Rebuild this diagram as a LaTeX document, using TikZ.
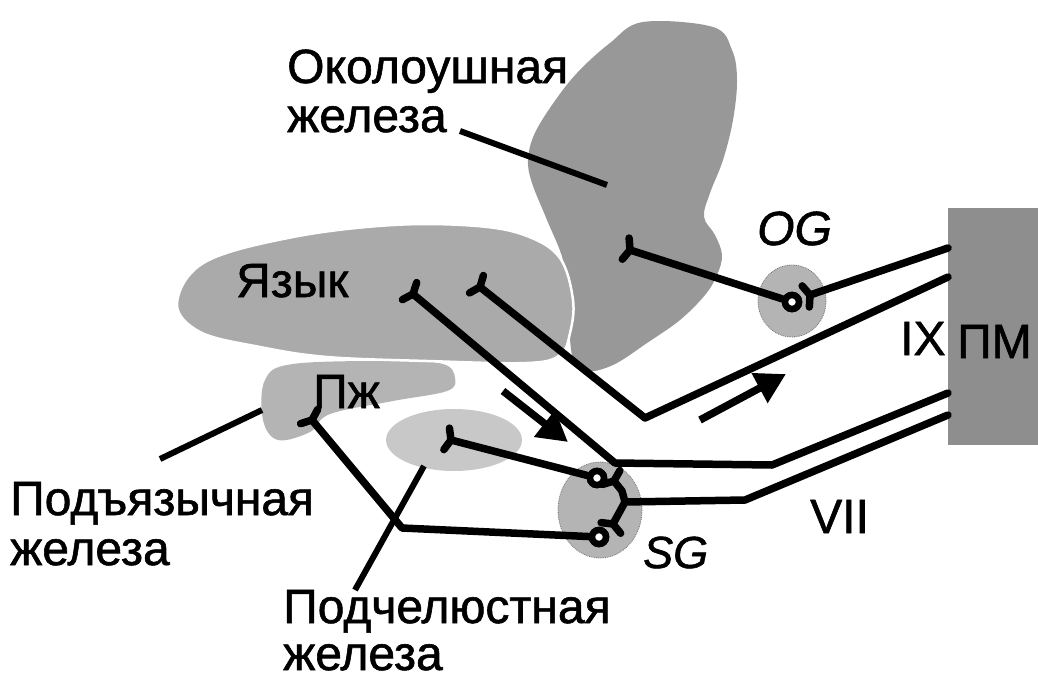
\documentclass[tikz,border=0pt]{standalone}
\usepackage{fontspec}
\setmainfont[UprightFeatures={FakeBold=1.2}, ItalicFeatures={FakeBold=1.2}]{Liberation Sans}
\usetikzlibrary{arrows.meta,calc}

\definecolor{parotidgray}{HTML}{989898}
\definecolor{tonguegray}{HTML}{AAAAAA}
\definecolor{sublgray}{HTML}{B4B4B4}
\definecolor{submgray}{HTML}{C8C8C8}
\definecolor{ganglgray}{HTML}{B4B4B4}
\definecolor{medgray}{HTML}{8E8E8E}

% Y-shaped synaptic ending at #2 for an axon arriving from #1
\newcommand\synend[2]{\draw[nerve] ($(#2)!12pt!112:(#1)$) -- (#2) -- ($(#2)!12pt!-112:(#1)$);}

\begin{document}
\begin{tikzpicture}[x=1pt,y=-1pt,
  txt/.style={font=\fontsize{48}{56}\selectfont, inner sep=0pt, anchor=base west},
  nerve/.style={line width=7.5pt, line join=round, line cap=round},
  leader/.style={line width=6pt},
  ganglion/.style={fill=ganglgray, draw=black!55, line width=0.8pt, densely dotted},
  soma/.style={circle, draw, line width=6.5pt, fill=white, minimum size=14pt, inner sep=0pt},
  flow/.style={line width=7.5pt, -{Triangle[length=30pt,width=32pt]}},
]
\useasboundingbox (0,0) rectangle (1038,680);
\fill[white] (0,0) rectangle (1038,680);

% glands
\fill[parotidgray] plot[smooth cycle, tension=0.6] coordinates {
  (610,43) (643,22) (713,27) (732,50) (737,80) (733,120) (723,160)
  (710,193) (704,217) (715,235) (722,255) (717,275) (705,295) (680,320)
  (647,343) (613,365) (585,371) (572,355) (568,300) (563,260) (547,220)
  (532,183) (528,160) (534,135) (552,105) (577,73)};
\fill[sublgray] plot[smooth cycle, tension=0.6] coordinates {
  (265,380) (293,364) (393,361) (443,364) (455,378) (447,391) (393,401)
  (330,414) (310,432) (278,440) (263,420)};
\filldraw[tonguegray, draw=white, line width=2.5pt] plot[smooth cycle, tension=0.6] coordinates {
  (177,303) (205,262) (293,237) (393,225) (477,226) (527,236) (560,258)
  (573,300) (570,333) (560,355) (527,363) (427,361) (327,357) (260,347) (200,332)};
\fill[submgray] (454,440) ellipse [x radius=68, y radius=31];

% medulla block
\fill[medgray] (948,208) rectangle (1038,445);

% ganglia
\draw[ganglion] (792,301) ellipse [x radius=34, y radius=36];
\draw[ganglion] (600,510) ellipse [x radius=42, y radius=48];

% points along the nerves
\coordinate (ixA) at (948,248);
\coordinate (ixB) at (948,277);
\coordinate (ixBv) at (645,418);
\coordinate (viiA) at (948,393);
\coordinate (viiAv) at (772,465);
\coordinate (viiAh) at (615,463);
\coordinate (viiB) at (948,415);
\coordinate (viiBv) at (745,500);
\coordinate (sgJ) at (625,502);
\coordinate (sgUk) at (622,491);
\coordinate (ogT) at (810,295);
\coordinate (parT) at (630,250);
\coordinate (tT1) at (413,294);
\coordinate (tT2) at (480,287);
\coordinate (smT) at (451,440);
\coordinate (pzV) at (402,528);
\coordinate (pzT) at (312,420);
\coordinate (sgUT) at (614,481);
\coordinate (sgLT) at (613,524);

% cell bodies
\node[soma] (ogcell) at (792,302) {};
\node[soma] (sgU) at (597,478) {};
\node[soma] (sgL) at (599,537) {};

% glossopharyngeal fibres
\draw[nerve] (ixA) -- (ogT);
\synend{ixA}{ogT}
\draw[nerve] (ogcell) -- (parT);
\synend{ogcell}{parT}
\draw[nerve] (ixB) -- (ixBv) -- (tT2);
\synend{ixBv}{tT2}

% facial fibres
\draw[nerve] (viiA) -- (viiAv) -- (viiAh) -- (tT1);
\synend{viiAh}{tT1}
\draw[nerve] (viiB) -- (viiBv) -- (sgJ);
\draw[nerve] (sgJ) -- (sgUk) -- (sgUT);
\synend{sgUk}{sgUT}
\draw[nerve] (sgJ) -- (sgLT);
\synend{sgJ}{sgLT}
\draw[nerve] (sgU) -- (smT);
\synend{sgU}{smT}
\draw[nerve] (sgL) -- (pzV) -- (pzT);
\synend{pzV}{pzT}

% redraw somata on top
\node[soma] at (ogcell) {};
\node[soma] at (sgU) {};
\node[soma] at (sgL) {};

% direction of conduction
\coordinate (f1s) at (503,391);
\coordinate (f1e) at (568,442);
\coordinate (f2s) at (700,420);
\coordinate (f2e) at (786,374);
\draw[flow] (f1s) -- (f1e);
\draw[flow] (f2s) -- (f2e);

% labels
\node[txt] (lpar1) at (287,83) {Околоушная};
\node[txt] (lpar2) at (287,132) {железа};
\node[txt] (ltong) at (236,297) {Язык};
\node[txt] (lpz) at (313,408) {Пж};
\node[txt] (lsub1) at (10,515) {Подъязычная};
\node[txt] (lsub2) at (10,565) {железа};
\node[txt] (lsm1) at (283,623) {Подчелюстная};
\node[txt] (lsm2) at (283,670) {железа};
\node[txt, font=\fontsize{48}{56}\selectfont\itshape] (log) at (757,245) {OG};
\node[txt, font=\fontsize{45}{52}\selectfont\itshape] (lsg) at (643,568) {SG};
\node[txt] (lix) at (900,355) {IX};
\node[txt] (lpm) at (957,358) {ПМ};
\node[txt] (lvii) at (810,533) {VII};

% leader lines
\coordinate (parL) at (607,185);
\coordinate (pzL) at (262,410);
\coordinate (smL) at (424,466);
\draw[leader] (460,131) -- (parL);
\draw[leader] (160,459) -- (pzL);
\draw[leader] (355,590) -- (smL);
\end{tikzpicture}
\end{document}
